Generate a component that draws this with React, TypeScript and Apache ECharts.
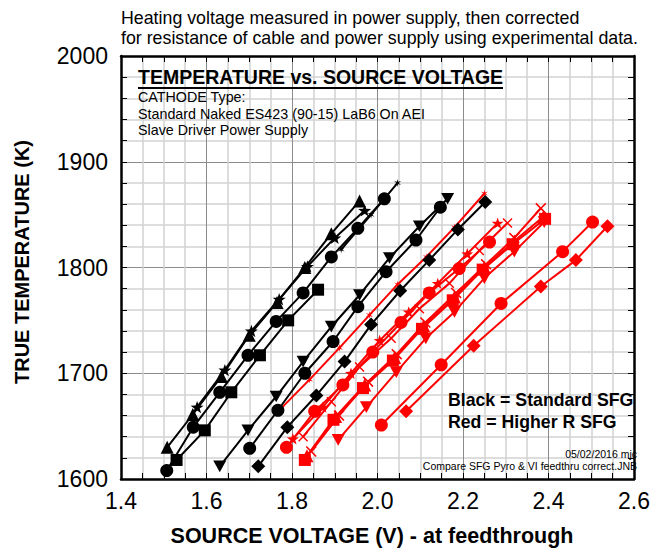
import React, { useEffect, useRef } from 'react';
import * as echarts from 'echarts';

// ---- axis ranges / ticks ----
const xMin = 1.4, xMax = 2.6, xStep = 0.2;
const yMin = 1600, yMax = 2000, yStep = 100;

// ---- Black = Standard SFG ----
const blkTriUp = [[1.508,1630],[1.568,1661],[1.635,1697],[1.700,1736],[1.765,1767],[1.830,1800],[1.892,1832],[1.958,1863]];
const blkStar = [[1.578,1668],[1.643,1703],[1.705,1740],[1.770,1770],[1.836,1801],[1.900,1828],[1.970,1854]];
const blkAst = [[1.915,1817],[1.985,1850],[2.047,1880]];
const blkCircA = [[1.507,1608],[1.569,1649],[1.631,1682],[1.697,1717],[1.763,1749],[1.826,1776],[1.892,1810],[1.954,1837],[2.016,1865]];
const blkSqA = [[1.530,1618],[1.596,1646],[1.658,1682],[1.725,1717],[1.791,1750],[1.861,1779]];
const blkTriDn = [[1.631,1612],[1.697,1646],[1.763,1678],[1.826,1711],[1.892,1744],[1.958,1774],[2.028,1809],[2.098,1839],[2.164,1865]];
const blkCircB = [[1.701,1629],[1.767,1665],[1.830,1700],[1.896,1730],[1.954,1763],[2.020,1796],[2.090,1826],[2.147,1857]];
const blkDia = [[1.721,1612],[1.789,1649],[1.857,1679],[1.923,1711],[1.985,1746],[2.053,1778],[2.121,1807],[2.188,1836],[2.252,1862]];

// ---- Red = Higher R SFG ----
const redAst = [[1.775,1667],[1.841,1694],[1.911,1724],[1.981,1755],[2.047,1784],[2.114,1810],[2.180,1838],[2.250,1870]];
const redCirc1 = [[1.787,1630],[1.853,1664],[1.919,1689],[1.989,1720],[2.055,1748],[2.121,1776],[2.191,1799],[2.262,1824]];
const redStar = [[1.802,1638],[1.872,1668],[1.938,1700],[2.005,1731],[2.073,1758],[2.141,1785],[2.210,1813],[2.281,1842]];
const redX1 = [[1.826,1640],[1.892,1673],[1.958,1706],[2.032,1733],[2.098,1761],[2.168,1785],[2.238,1816],[2.304,1842]];
const redSq = [[1.830,1618],[1.897,1656],[1.966,1686],[2.036,1712],[2.104,1742],[2.176,1769],[2.246,1798],[2.316,1822],[2.392,1846]];
const redTriUp = [[1.835,1622],[1.902,1659],[1.970,1689],[2.040,1715],[2.108,1745],[2.180,1772],[2.250,1800],[2.320,1825],[2.388,1848]];
const redTriDn = [[1.908,1637],[1.974,1668],[2.044,1701],[2.113,1733],[2.180,1758],[2.250,1790],[2.320,1815],[2.390,1843]];
const redX2 = [[1.845,1626],[1.910,1660],[1.978,1692],[2.045,1718],[2.112,1748],[2.184,1776],[2.254,1803],[2.320,1828],[2.382,1856]];
const redCirc2 = [[2.009,1651],[2.149,1708],[2.289,1766],[2.433,1815],[2.503,1843]];
const redDia = [[2.067,1664],[2.225,1726],[2.382,1782],[2.464,1807],[2.538,1839]];

// ---- texts ----
const noteLines = [
  'Heating voltage measured in power supply, then corrected',
  'for resistance of cable and power supply using experimental data.',
];
const boxTitle = 'TEMPERATURE vs. SOURCE VOLTAGE';
const boxLines = ['CATHODE Type:', 'Standard Naked ES423 (90-15) LaB6 On AEI', 'Slave Driver Power Supply'];
const keyLines = ['Black = Standard SFG', 'Red = Higher R SFG'];
const footLines = ['05/02/2016 mjc', 'Compare SFG Pyro & VI feedthru correct.JNB'];
const xName = 'SOURCE VOLTAGE (V) - at feedthrough';
const yName = 'TRUE TEMPERATURE (K)';

const FONT = 'Liberation Sans, Arial, Helvetica, sans-serif';
const TRI_DOWN = 'path://M0,0L20,0L10,18Z';
const STAR = 'path://M10,0L12.35,6.76L19.51,6.91L13.8,11.24L15.88,18.09L10,14L4.12,18.09L6.2,11.24L0.49,6.91L7.65,6.76Z';
const XMARK = 'path://M0,2L2,0L10,8L18,0L20,2L12,10L20,18L18,20L10,12L2,20L0,18L8,10Z';
const AST = 'path://M10,0L11.5,7.4L18.7,5L13,10L18.7,15L11.5,12.6L10,20L8.5,12.6L1.3,15L7,10L1.3,5L8.5,7.4Z';

const RED = '#ff0000';
const BLACK = '#000000';

function mk(data: number[][], color: string, symbol: string, size: number, z: number) {
  return {
    type: 'line',
    data,
    symbol,
    symbolSize: size,
    symbolKeepAspect: true,
    showSymbol: true,
    lineStyle: { color, width: 2 },
    itemStyle: { color, borderWidth: 0 },
    z,
    silent: true,
  };
}

const axisCommon = {
  axisLine: { show: true, onZero: false, lineStyle: { color: '#000', width: 2.5 } },
  axisTick: { show: true, inside: true, length: 6, lineStyle: { color: '#000', width: 1 } },
};

export default function App() {
  const ref = useRef<HTMLDivElement>(null);
  useEffect(() => {
    const chart = echarts.init(ref.current!, null, { renderer: 'svg' });
    const option: any = {
      animation: false,
      backgroundColor: '#fff',
      grid: { left: 121, right: 18, top: 56, bottom: 70, containLabel: false },
      xAxis: [
        {
          type: 'value', min: xMin, max: xMax, interval: xStep, position: 'bottom',
          ...axisCommon,
          minorTick: { show: true, splitNumber: 4, length: 6, lineStyle: { color: '#000', width: 1 } },
          splitLine: { show: true, lineStyle: { color: '#8c8c8c', width: 1 } },
          minorSplitLine: { show: true, lineStyle: { color: '#d2d2d2', width: 1.5 } },
          axisLabel: { fontSize: 23, color: '#000', margin: 10, fontFamily: FONT, formatter: (v: number) => v.toFixed(1) },
        },
        {
          type: 'value', min: xMin, max: xMax, interval: xStep, position: 'top',
          ...axisCommon,
          minorTick: { show: true, splitNumber: 4, length: 6, lineStyle: { color: '#000', width: 1 } },
          splitLine: { show: false }, axisLabel: { show: false },
        },
      ],
      yAxis: [
        {
          type: 'value', min: yMin, max: yMax, interval: yStep, position: 'left',
          ...axisCommon,
          minorTick: { show: true, splitNumber: 5, length: 6, lineStyle: { color: '#000', width: 1 } },
          splitLine: { show: true, lineStyle: { color: '#8c8c8c', width: 1 } },
          minorSplitLine: { show: true, lineStyle: { color: '#d2d2d2', width: 1.5 } },
          axisLabel: { fontSize: 23, color: '#000', margin: 13, fontFamily: FONT, formatter: (v: number) => String(Math.round(v)) },
        },
        {
          type: 'value', min: yMin, max: yMax, interval: yStep, position: 'right',
          ...axisCommon,
          minorTick: { show: true, splitNumber: 5, length: 6, lineStyle: { color: '#000', width: 1 } },
          splitLine: { show: false }, axisLabel: { show: false },
        },
      ],
      series: [
        mk(redDia, RED, 'diamond', 14, 2),
        mk(redCirc2, RED, 'circle', 13, 2),
        mk(redTriDn, RED, TRI_DOWN, 13, 2),
        mk(redX2, RED, XMARK, 11, 2),
        mk(redTriUp, RED, 'triangle', 13, 2),
        mk(redSq, RED, 'rect', 12, 2),
        mk(redX1, RED, XMARK, 10, 2),
        mk(redStar, RED, STAR, 12, 2),
        mk(redCirc1, RED, 'circle', 13, 2),
        mk(redAst, RED, AST, 8, 2),
        mk(blkDia, BLACK, 'diamond', 14, 3),
        mk(blkCircB, BLACK, 'circle', 13, 3),
        mk(blkTriDn, BLACK, TRI_DOWN, 13, 3),
        mk(blkSqA, BLACK, 'rect', 12, 3),
        mk(blkCircA, BLACK, 'circle', 13, 3),
        mk(blkAst, BLACK, AST, 8, 3),
        mk(blkStar, BLACK, STAR, 13, 3),
        mk(blkTriUp, BLACK, 'triangle', 13, 3),
      ],
      graphic: [
        { type: 'text', x: 121, y: 18, style: { text: noteLines[0], fontSize: 17.8, fontFamily: FONT, fill: '#000', align: 'left', verticalAlign: 'middle' } },
        { type: 'text', x: 121, y: 38, style: { text: noteLines[1], fontSize: 17.8, fontFamily: FONT, fill: '#000', align: 'left', verticalAlign: 'middle' } },
        { type: 'text', x: 138, y: 77, z: 10, style: { text: boxTitle, fontSize: 19.5, fontWeight: 'bold', fontFamily: FONT, fill: '#000', align: 'left', verticalAlign: 'middle' } },
        { type: 'line', z: 10, shape: { x1: 138, y1: 88, x2: 503, y2: 88 }, style: { stroke: '#000', lineWidth: 2 } },
        { type: 'text', x: 138, y: 97, z: 10, style: { text: boxLines[0], fontSize: 14.3, fontFamily: FONT, fill: '#000', align: 'left', verticalAlign: 'middle' } },
        { type: 'text', x: 138, y: 113.5, z: 10, style: { text: boxLines[1], fontSize: 14.3, fontFamily: FONT, fill: '#000', align: 'left', verticalAlign: 'middle' } },
        { type: 'text', x: 138, y: 130, z: 10, style: { text: boxLines[2], fontSize: 14.3, fontFamily: FONT, fill: '#000', align: 'left', verticalAlign: 'middle' } },
        { type: 'text', x: 448, y: 400, z: 10, style: { text: keyLines[0], fontSize: 17.7, fontWeight: 'bold', fontFamily: FONT, fill: '#000', align: 'left', verticalAlign: 'middle' } },
        { type: 'text', x: 448, y: 422, z: 10, style: { text: keyLines[1], fontSize: 17.7, fontWeight: 'bold', fontFamily: FONT, fill: '#000', align: 'left', verticalAlign: 'middle' } },
        { type: 'text', x: 637, y: 454, z: 10, style: { text: footLines[0], fontSize: 10.5, fontFamily: FONT, fill: '#000', align: 'right', verticalAlign: 'middle' } },
        { type: 'text', x: 637, y: 466, z: 10, style: { text: footLines[1], fontSize: 10.5, fontFamily: FONT, fill: '#000', align: 'right', verticalAlign: 'middle' } },
        { type: 'text', x: 372, y: 536, style: { text: xName, fontSize: 21.5, fontWeight: 'bold', fontFamily: FONT, fill: '#000', align: 'center', verticalAlign: 'middle' } },
        { type: 'text', x: 22, y: 262, rotation: Math.PI / 2, style: { text: yName, fontSize: 20, fontWeight: 'bold', fontFamily: FONT, fill: '#000', align: 'center', verticalAlign: 'middle' } },
      ],
    };
    chart.setOption(option);
    return () => chart.dispose();
  }, []);
  return <div ref={ref} style={{ position: 'fixed', left: 0, top: 0, width: 653, height: 549, background: '#fff' }} />;
}
